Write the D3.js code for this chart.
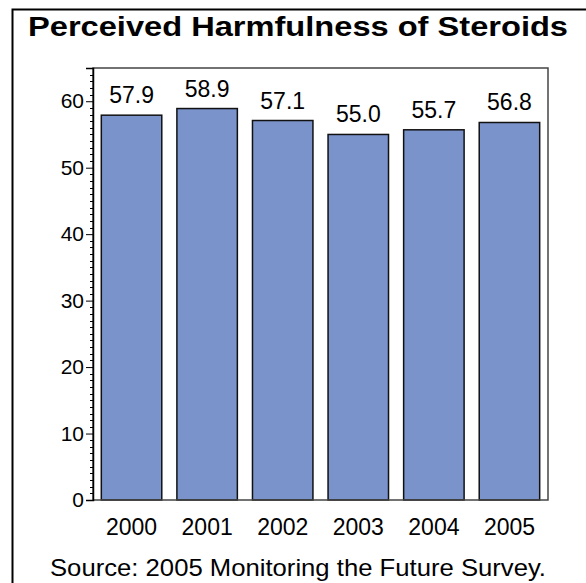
<!DOCTYPE html>
<html>
<head>
<meta charset="utf-8">
<script src="https://cdn.jsdelivr.net/npm/d3@7"></script>
<style>
  html, body { margin: 0; padding: 0; background: #fff; }
  svg { display: block; }
  text { font-family: "Liberation Sans", Arial, Helvetica, sans-serif; fill: #000; }
</style>
</head>
<body>
<svg id="chart" width="586" height="583"></svg>
<script>
const years = ["2000", "2001", "2002", "2003", "2004", "2005"];
const values = [57.9, 58.9, 57.1, 55.0, 55.7, 56.8];
const yTicks = [0, 10, 20, 30, 40, 50, 60];
const titleText = "Perceived Harmfulness of Steroids";
const sourceText = "Source: 2005 Monitoring the Future Survey.";

const svg = d3.select("#chart");
const W = 586, H = 583;

// outer frame
svg.append("rect")
  .attr("x", 12.5).attr("y", 9.5)
  .attr("width", W + 10).attr("height", H + 10)
  .attr("fill", "none").attr("stroke", "#000").attr("stroke-width", 2);

// title
svg.append("text")
  .attr("x", 28).attr("y", 36)
  .attr("font-size", 27).attr("font-weight", "bold")
  .attr("textLength", 540).attr("lengthAdjust", "spacingAndGlyphs")
  .text(titleText);

const plot = { left: 93, right: 548, top: 68, bottom: 500 };

const x = d3.scaleBand()
  .domain(years)
  .range([plot.left, plot.right])
  .paddingInner(0.2)
  .paddingOuter(0.11);

const y = d3.scaleLinear()
  .domain([0, 65])
  .range([plot.bottom, plot.top]);

// bars
svg.append("g").selectAll("rect")
  .data(years)
  .join("rect")
  .attr("x", d => x(d))
  .attr("y", (d, i) => y(values[i]))
  .attr("width", x.bandwidth())
  .attr("height", (d, i) => y(0) - y(values[i]))
  .attr("fill", "#7B93CB")
  .attr("stroke", "#111")
  .attr("stroke-width", 1.5);

// value labels
svg.append("g").selectAll("text")
  .data(years)
  .join("text")
  .attr("x", d => x(d) + x.bandwidth() / 2)
  .attr("y", (d, i) => y(values[i]) - 12)
  .attr("text-anchor", "middle")
  .attr("font-size", 23)
  .attr("fill", "#222")
  .text((d, i) => values[i].toFixed(1));

// plot frame
svg.append("rect")
  .attr("x", plot.left).attr("y", plot.top)
  .attr("width", plot.right - plot.left)
  .attr("height", plot.bottom - plot.top)
  .attr("fill", "none").attr("stroke", "#444").attr("stroke-width", 1.5);

// minor ticks
const minor = d3.range(0, 65.01, 1).filter(v => v % 10 !== 0);
svg.append("g").selectAll("line")
  .data(minor)
  .join("line")
  .attr("x1", plot.left - 3).attr("x2", plot.left)
  .attr("y1", d => Math.round(y(d)) + 0.5).attr("y2", d => Math.round(y(d)) + 0.5)
  .attr("stroke", "#000").attr("stroke-width", 1);

// y axis
const yAxis = d3.axisLeft(y).tickValues(yTicks).tickSize(7).tickPadding(2).tickFormat(d3.format("d"));
const gy = svg.append("g").attr("transform", `translate(${plot.left},0)`).call(yAxis);
gy.select(".domain").attr("stroke", "#000").attr("stroke-width", 1.5);
gy.selectAll(".tick line").attr("stroke", "#000");
gy.selectAll(".tick text").attr("font-size", 21).attr("font-family", "Liberation Sans, Arial, sans-serif").attr("fill", "#222");

// x axis labels
const xAxis = d3.axisBottom(x).tickSize(0).tickPadding(19);
const gx = svg.append("g").attr("transform", `translate(0,${plot.bottom})`).call(xAxis);
gx.select(".domain").remove();
gx.selectAll(".tick text").attr("font-size", 23).attr("font-family", "Liberation Sans, Arial, sans-serif").attr("fill", "#222");

// source
svg.append("text")
  .attr("x", 298).attr("y", 576)
  .attr("text-anchor", "middle")
  .attr("font-size", 24)
  .attr("textLength", 496).attr("lengthAdjust", "spacingAndGlyphs")
  .attr("fill", "#222")
  .text(sourceText);
</script>
</body>
</html>
